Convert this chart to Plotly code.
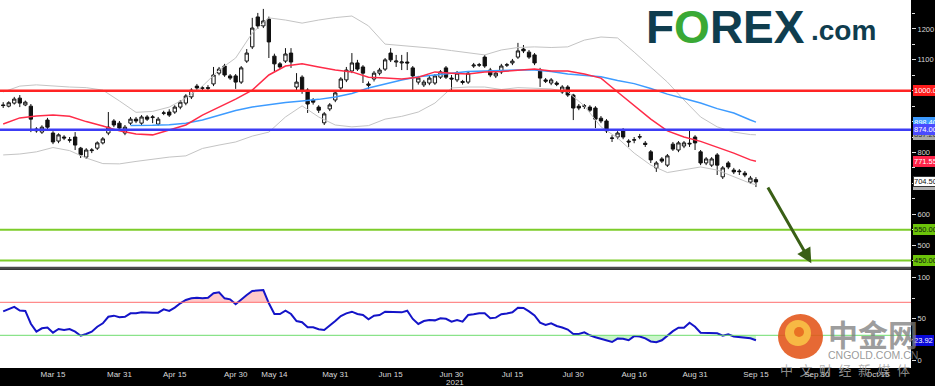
import pandas as pd
import numpy as np
import plotly.graph_objects as go

# ---------------- data ----------------
holidays = ["2021-04-05", "2021-05-03", "2021-05-04", "2021-05-05", "2021-06-14"]
trade_dates = [d for d in pd.bdate_range("2021-03-02", "2021-09-15") if d.strftime("%Y-%m-%d") not in holidays]
future_dates = list(pd.bdate_range("2021-09-16", "2021-11-05"))
all_dates = list(trade_dates) + future_dates
pos = {d.strftime("%Y-%m-%d"): i for i, d in enumerate(all_dates)}

opens = [954, 950, 960, 976, 954, 950, 876, 866, 905,
         863, 837, 850, 841, 850, 814, 785, 806, 814, 831,
         863, 902, 895, 863, 895, 908, 895, 915, 913, 892,
         927, 931, 931, 947, 960, 980, 1015, 1008, 1010, 1022,
         1057, 1080, 1048, 1048, 1028, 1096, 1142, 1239, 1210, 1232,
         1112, 1087, 1096, 1122, 1012, 1044, 1002, 970, 947, 896,
         941, 970, 1009, 1035, 1064, 1090, 1077, 1022, 1038, 1057,
         1070, 1122, 1093, 1090, 1093, 1074, 1028, 1019, 1025, 1025,
         1044, 1074, 1041, 1035, 1030, 1028, 1080, 1083, 1109, 1067,
         1048, 1061, 1083, 1090, 1109, 1135, 1125, 1116, 1067, 1035,
         1025, 1025, 996, 1012, 986, 950, 951, 947, 944, 911,
         902, 847, 850, 873, 837, 840, 850, 830, 802, 750,
         779, 759, 827, 808, 821, 830, 850, 802, 766, 759,
         792, 721, 766, 743, 740, 733, 704, 712]
highs = [963, 966, 980, 986, 968, 957, 882, 888, 912,
         869, 862, 856, 850, 866, 818, 814, 814, 836, 850,
         931, 908, 902, 889, 915, 915, 921, 921, 921, 915,
         935, 940, 953, 970, 989, 1008, 1022, 1015, 1018, 1077,
         1077, 1087, 1054, 1054, 1080, 1135, 1236, 1252, 1265, 1240,
         1120, 1093, 1138, 1138, 1057, 1050, 1008, 976, 953, 931,
         960, 999, 1044, 1077, 1122, 1100, 1083, 1030, 1064, 1074,
         1106, 1138, 1116, 1116, 1125, 1080, 1048, 1035, 1050, 1054,
         1067, 1080, 1051, 1064, 1035, 1064, 1090, 1090, 1116, 1074,
         1064, 1087, 1090, 1103, 1155, 1148, 1132, 1122, 1074, 1041,
         1041, 1031, 1018, 1018, 990, 957, 957, 953, 950, 918,
         908, 856, 869, 879, 843, 850, 860, 837, 808, 772,
         785, 795, 834, 837, 837, 873, 856, 808, 785, 785,
         798, 756, 772, 750, 746, 740, 724, 720]
lows = [944, 946, 955, 947, 950, 866, 864, 860, 876,
        827, 830, 840, 832, 808, 782, 779, 798, 808, 826,
        856, 882, 872, 856, 889, 895, 889, 902, 895, 886,
        921, 915, 925, 940, 953, 973, 1002, 1000, 996, 1015,
        1050, 1045, 1035, 1006, 1022, 1090, 1135, 1200, 1203, 1106,
        1061, 1070, 1090, 1074, 1002, 990, 928, 955, 928, 889,
        934, 963, 1002, 1028, 1057, 1064, 1025, 1005, 1030, 1050,
        1064, 1093, 1077, 1067, 1067, 1002, 1020, 1012, 1018, 1019,
        1038, 1038, 1002, 1028, 1020, 1022, 1074, 1077, 1074, 1044,
        1041, 1054, 1077, 1083, 1103, 1122, 1103, 1083, 1012, 1025,
        1018, 1015, 990, 980, 905, 937, 941, 931, 879, 895,
        863, 834, 843, 843, 818, 830, 843, 818, 766, 737,
        766, 753, 805, 801, 814, 818, 808, 759, 759, 753,
        727, 714, 746, 730, 727, 720, 698, 688]
closes = [952, 961, 973, 960, 963, 908, 870, 882, 882,
          834, 857, 847, 840, 824, 792, 808, 808, 831, 844,
          882, 889, 879, 882, 908, 902, 915, 908, 915, 908,
          928, 921, 947, 963, 983, 1002, 1009, 1009, 1008, 1051,
          1070, 1051, 1041, 1028, 1074, 1122, 1203, 1210, 1226, 1158,
          1087, 1077, 1119, 1093, 1028, 1000, 957, 963, 937, 925,
          954, 993, 1038, 1067, 1090, 1070, 1057, 1018, 1057, 1067,
          1100, 1100, 1096, 1093, 1090, 1048, 1041, 1028, 1041, 1048,
          1061, 1044, 1038, 1057, 1027, 1057, 1083, 1084, 1080, 1051,
          1057, 1080, 1084, 1096, 1129, 1129, 1109, 1090, 1041, 1031,
          1035, 1021, 1012, 986, 944, 944, 950, 937, 908, 902,
          870, 846, 863, 850, 834, 841, 851, 826, 776, 766,
          772, 789, 811, 831, 831, 828, 831, 766, 779, 779,
          759, 750, 753, 737, 738, 727, 717, 704.5]

rsi = [59, 62, 64.5, 60, 59.5, 44, 34.5, 38.5, 39.5,
       33.2, 37.6, 36.4, 37.6, 34.4, 29.5, 31.6, 34.4, 40.4, 44.5,
       52.5, 53.8, 51.8, 52.5, 56.6, 56.6, 57.9, 57.4, 57.4, 57.4,
       61.5, 59.5, 63.5, 68.8, 72.8, 74.8, 75.6, 74.8, 75.6, 80.9,
       82.1, 74.8, 73.6, 67.6, 73.6, 78.8, 83.7, 84.1, 84.9, 68.8,
       55.8, 55.8, 59.8, 55.8, 47.3, 45.8, 39.7, 39.7, 37.3, 36.4,
       41.6, 47.3, 53.4, 56.6, 58.6, 55.8, 54.6, 49.4, 53.8, 54.6,
       58.6, 58.6, 58.2, 57.8, 59.8, 49.8, 43.7, 47.3, 48.5, 48.1,
       50.6, 50.0, 46.5, 48.5, 46.5, 54.6, 55.5, 56.6, 56.6, 50.6,
       51.4, 55.5, 56.5, 57.9, 63.5, 63.1, 59.0, 54.0, 45.3, 42.5,
       44.5, 41.3, 39.5, 37.0, 31.6, 31.6, 33.6, 30.0, 27.6, 25.8,
       23.5, 21.9, 26.0, 25.8, 24.0, 29.0, 28.6, 26.2, 22.5, 21.5,
       24.0, 29.5, 35.0, 39.2, 39.2, 45.3, 40.4, 33.2, 33.2, 33.2,
       32.4, 29.6, 31.2, 28.6, 28.0, 27.4, 26.4, 23.92]

ind_dates = ["2021-03-02", "2021-03-05", "2021-03-10", "2021-03-15", "2021-03-18", "2021-03-23",
             "2021-03-26", "2021-03-31", "2021-04-06", "2021-04-09", "2021-04-14", "2021-04-19",
             "2021-04-22", "2021-04-27", "2021-04-30", "2021-05-10", "2021-05-13", "2021-05-18",
             "2021-05-21", "2021-05-26", "2021-05-31", "2021-06-03", "2021-06-08", "2021-06-11",
             "2021-06-17", "2021-06-22", "2021-06-25", "2021-06-30", "2021-07-05", "2021-07-08",
             "2021-07-13", "2021-07-16", "2021-07-21", "2021-07-26", "2021-07-29", "2021-08-03",
             "2021-08-06", "2021-08-11", "2021-08-16", "2021-08-19", "2021-08-24", "2021-08-27",
             "2021-09-01", "2021-09-06", "2021-09-09", "2021-09-14", "2021-09-15"]
ma20 = [892, 912, 918, 921, 917, 900, 886, 870, 860, 857,
        873, 889, 921, 947, 973, 1002, 1051, 1080, 1087, 1077,
        1067, 1061, 1044, 1041, 1038, 1044, 1061, 1057, 1054, 1061,
        1062, 1066, 1070, 1064, 1064, 1054, 1041, 996, 951, 908,
        870, 850, 836, 818, 798, 776, 771.55]
bb_upper = [996, 1015, 1019, 1015, 1012, 1010, 1002, 967, 930, 933,
            947, 976, 1015, 1067, 1106, 1187, 1236, 1229, 1219, 1229,
            1237, 1242, 1210, 1151, 1147, 1142, 1137, 1130, 1122, 1116,
            1132, 1140, 1142, 1140, 1142, 1164, 1174, 1171, 1125, 1077,
            1028, 970, 915, 883, 866, 858, 857.2]
bb_lower = [792, 795, 802, 816, 806, 782, 764, 763, 771, 779,
            785, 789, 813, 824, 834, 853, 866, 915, 951, 915,
            889, 883, 887, 908, 917, 931, 960, 1009, 1012, 1012,
            1004, 1010, 1009, 1006, 996, 951, 883, 847, 798, 759,
            735, 743, 753, 743, 721, 700, 695.4]
ma50_dates = ["2021-04-02"] + ind_dates[8:]
ma50 = [887, 887, 888, 890, 895, 905, 920, 936, 947, 955,
        962, 967, 972, 980, 991, 1009, 1022, 1035, 1045, 1052,
        1057, 1062, 1064, 1065, 1067, 1067, 1062, 1054, 1049, 1045,
        1033, 1023, 1007, 989, 975, 960, 942, 928, 905, 898.4]

levels_red = [1000]
levels_blue = [874]
levels_green = [550, 450]

tick_dates = ["2021-03-15", "2021-03-31", "2021-04-15", "2021-04-30", "2021-05-14", "2021-05-31",
              "2021-06-15", "2021-06-30", "2021-07-15", "2021-07-30", "2021-08-16", "2021-08-31",
              "2021-09-15", "2021-09-30", "2021-10-15"]
tick_text = ["Mar 15", "Mar 31", "Apr 15", "Apr 30", "May 14", "May 31", "Jun 15", "Jun 30",
             "Jul 15", "Jul 30", "Aug 16", "Aug 31", "Sep 15", "Sep 30", "Oct 15"]

arrow_start = ("2021-09-17", 691)
arrow_end = ("2021-09-29", 441)

# ---------------- figure ----------------
W, H = 935, 386
ML, MR, MT, MB = 0, 24, 0, 18
PW, PH = W - ML - MR, H - MT - MB

def fx(px):
    return px / PW

def fy(py):
    return (PH - py) / PH

xi = list(range(len(closes)))
fig = go.Figure()

ind_x = [pos[d] for d in ind_dates]
ma50_x = [pos[d] for d in ma50_dates]

fig.add_trace(go.Scatter(x=ind_x, y=bb_upper, mode="lines", line=dict(color="#c4c4c4", width=1), yaxis="y"))
fig.add_trace(go.Scatter(x=ind_x, y=bb_lower, mode="lines", line=dict(color="#c4c4c4", width=1), yaxis="y"))
fig.add_trace(go.Scatter(x=ma50_x, y=ma50, mode="lines", line=dict(color="#3d9bff", width=1.5), yaxis="y"))
fig.add_trace(go.Scatter(x=ind_x, y=ma20, mode="lines", line=dict(color="#ff2b48", width=1.5), yaxis="y"))

fig.add_trace(go.Candlestick(
    x=xi, open=opens, high=highs, low=lows, close=closes, yaxis="y",
    increasing=dict(line=dict(color="#111111", width=1), fillcolor="white"),
    decreasing=dict(line=dict(color="#111111", width=1), fillcolor="#111111"),
    whiskerwidth=0))

# RSI fills
n = len(rsi)
rsi_arr = np.array(rsi)
fig.add_trace(go.Scatter(x=xi, y=[70] * n, mode="lines", line=dict(width=0), yaxis="y2"))
fig.add_trace(go.Scatter(x=xi, y=np.maximum(rsi_arr, 70), mode="lines", line=dict(width=0),
                         fill="tonexty", fillcolor="#ffc9c9", yaxis="y2"))
fig.add_trace(go.Scatter(x=xi, y=[30] * n, mode="lines", line=dict(width=0), yaxis="y2"))
fig.add_trace(go.Scatter(x=xi, y=np.minimum(rsi_arr, 30), mode="lines", line=dict(width=0),
                         fill="tonexty", fillcolor="#c9f5c9", yaxis="y2"))

shapes = []
for lv in levels_red:
    shapes.append(dict(type="line", xref="paper", x0=0, x1=1, yref="y", y0=lv, y1=lv,
                       line=dict(color="#ff2424", width=2.5)))
for lv in levels_blue:
    shapes.append(dict(type="line", xref="paper", x0=0, x1=1, yref="y", y0=lv, y1=lv,
                       line=dict(color="#3c3cf5", width=2.5)))
for lv in levels_green:
    shapes.append(dict(type="line", xref="paper", x0=0, x1=1, yref="y", y0=lv, y1=lv,
                       line=dict(color="#7ccc2a", width=2)))
shapes.append(dict(type="line", xref="paper", x0=0, x1=1, yref="y2", y0=70, y1=70,
                   line=dict(color="#ff6f6f", width=1)))
shapes.append(dict(type="line", xref="paper", x0=0, x1=1, yref="y2", y0=30, y1=30,
                   line=dict(color="#6ddc6d", width=1)))
shapes.append(dict(type="line", xref="paper", x0=0, x1=1, yref="paper", y0=fy(268.3), y1=fy(268.3),
                   line=dict(color="#4a4a4a", width=3)))
# CNGOLD watermark logo
shapes.append(dict(type="circle", xref="paper", yref="paper", x0=fx(778), x1=fx(823), y0=fy(359), y1=fy(314),
                   fillcolor="rgba(226,84,24,0.88)", line=dict(width=0), layer="above"))
shapes.append(dict(type="circle", xref="paper", yref="paper", x0=fx(785), x1=fx(811), y0=fy(346), y1=fy(320),
                   fillcolor="rgba(248,190,70,0.95)", line=dict(width=0), layer="above"))
shapes.append(dict(type="circle", xref="paper", yref="paper", x0=fx(794), x1=fx(804), y0=fy(337), y1=fy(327),
                   fillcolor="rgba(232,110,34,0.95)", line=dict(width=0), layer="above"))

fig.add_trace(go.Scatter(x=xi, y=rsi, mode="lines", line=dict(color="#1414c8", width=2), yaxis="y2"))

ann = []
def value_label(yref, val, text, bg, fg, border=None):
    ann.append(dict(xref="paper", x=1, xanchor="left", xshift=2, yref=yref, y=val, yanchor="middle",
                    text=text, showarrow=False, bgcolor=bg, bordercolor=border or bg, borderwidth=1,
                    borderpad=0, font=dict(size=7.5, color=fg, family="Liberation Sans")))

value_label("y", ma50[-1], f"{ma50[-1]:.2f}", "#3d9bff", "white")
value_label("y", bb_upper[-1], f"{bb_upper[-1]:.2f}", "#a9a9a9", "#333333")
value_label("y", levels_blue[0], f"{levels_blue[0]:.2f}", "#4a4aff", "white")
value_label("y", levels_red[0], f"{levels_red[0]:.2f}", "#ff1c1c", "white")
value_label("y", ma20[-1], f"{ma20[-1]:.2f}", "#ff2449", "white")
value_label("y", bb_lower[-1], f"{bb_lower[-1]:.2f}", "#b0b0b0", "#333333")
value_label("y", closes[-1], f"{closes[-1]:.2f}", "white", "#111111", border="#333333")
for lv in levels_green:
    value_label("y", lv, f"{lv:.2f}", "#6cc40a", "#102010")
value_label("y2", rsi[-1], f"{rsi[-1]:.2f}", "#0a0ad8", "white")

# arrow
ann.append(dict(xref="x", yref="y", x=pos[arrow_end[0]], y=arrow_end[1],
                axref="x", ayref="y", ax=pos[arrow_start[0]], ay=arrow_start[1],
                text="", showarrow=True, arrowhead=2, arrowsize=1, arrowwidth=3,
                arrowcolor="#3a5f16"))

# year label
ann.append(dict(xref="x", x=pos["2021-06-30"], xshift=3, yref="paper", y=fy(383), yanchor="middle",
                xanchor="center", text="2021", showarrow=False,
                font=dict(size=8, color="#d8d8d8", family="Liberation Sans")))

# FOREX.com logo
ann.append(dict(xref="paper", x=fx(644), xanchor="left", yref="paper", y=fy(27), yanchor="middle",
                text="<b>F<span style='color:#3aa935'>O</span>REX</b>", showarrow=False,
                font=dict(size=46, color="#0f3d4e", family="Liberation Sans")))
ann.append(dict(xref="paper", x=fx(809), xanchor="left", yref="paper", y=fy(31), yanchor="middle",
                text="<b>.com</b>", showarrow=False,
                font=dict(size=28, color="#0f3d4e", family="Liberation Sans")))

# CNGOLD watermark text
ann.append(dict(xref="paper", x=fx(873), xanchor="center", yref="paper", y=fy(333), yanchor="middle",
                text="<b>中金网</b>", showarrow=False,
                font=dict(size=30, color="rgba(125,125,125,0.75)", family="Noto Sans CJK SC")))
ann.append(dict(xref="paper", x=fx(873), xanchor="center", yref="paper", y=fy(355), yanchor="middle",
                text="CNGOLD.COM.CN", showarrow=False,
                font=dict(size=10.5, color="rgba(135,135,135,0.85)", family="Liberation Sans")))
ann.append(dict(xref="paper", x=fx(845), xanchor="center", yref="paper", y=fy(370), yanchor="middle",
                text="\u2002".join(list("中文财经新媒体")), showarrow=False,
                font=dict(size=13, color="rgba(165,165,165,0.85)", family="Noto Sans CJK SC")))

x_lo = pos["2021-03-15"] - 53 / 5.535
x_hi = x_lo + PW / 5.535

fig.update_layout(
    width=W, height=H, margin=dict(l=ML, r=MR, t=MT, b=MB),
    paper_bgcolor="black", plot_bgcolor="white", showlegend=False, boxgap=0.15,
    font=dict(family="Liberation Sans", color="#d8d8d8"),
    shapes=shapes, annotations=ann,
    xaxis=dict(range=[x_lo, x_hi], anchor="y2", showgrid=False, zeroline=False, showline=False,
               tickmode="array", tickvals=[pos[d] for d in tick_dates], ticktext=tick_text,
               ticks="", tickfont=dict(size=8, color="#d8d8d8"), rangeslider=dict(visible=False),
               fixedrange=True),
    yaxis=dict(domain=[fy(267), 1], range=[429.0, 1293.9], side="right", anchor="x",
               showgrid=False, zeroline=False, showline=False,
               tickmode="array", tickvals=[500, 600, 800, 1100, 1200, 1300],
               ticks="outside", ticklen=4, tickcolor="#dddddd",
               minor=dict(tickmode="linear", tick0=0, dtick=50, ticks="outside", ticklen=3, tickcolor="#dddddd"),
               tickfont=dict(size=7.5, color="#d8d8d8")),
    yaxis2=dict(domain=[0, fy(270)], range=[-9.64, 109.15], side="right", anchor="x",
                showgrid=False, zeroline=False, showline=False,
                tickmode="array", tickvals=[0, 50, 100],
                ticks="outside", ticklen=4, tickcolor="#dddddd",
                minor=dict(tickmode="linear", tick0=0, dtick=25, ticks="outside", ticklen=3, tickcolor="#dddddd"),
                tickfont=dict(size=7.5, color="#d8d8d8")),
)

fig.write_html("out.html", config={"displayModeBar": False},
               post_script="document.body.style.margin='0';document.body.style.overflow='hidden';")
